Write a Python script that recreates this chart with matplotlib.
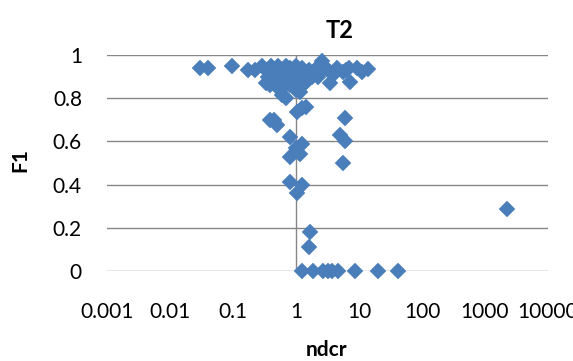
import matplotlib.pyplot as plt

plt.rcParams["font.family"] = ["Lato", "DejaVu Sans"]

# ndcr vs F1 for run T2
ndcr = [
    0.030, 0.040, 0.096, 0.17, 0.22, 0.29, 0.33, 0.40, 0.45, 0.52, 0.60, 0.70,
    0.80, 0.90, 1.0, 1.1, 1.25, 1.4, 1.6, 1.8, 2.0, 2.3, 2.58, 3.0, 3.5, 4.5,
    5.5, 7.0, 9.3, 11.0, 13.9,
    0.33, 0.39, 0.42, 0.50, 0.55, 0.60, 0.70, 0.80, 0.90, 1.0, 1.16, 1.3, 1.5,
    2.2, 3.46, 7.2,
    0.36, 0.48, 0.65, 0.75, 0.95, 1.2, 1.7, 2.6, 4.0, 6.3,
    1.05, 1.45, 1.25, 0.39, 0.44, 0.50, 6.0, 0.80, 1.25, 5.0, 6.0, 0.80, 1.16,
    1.0, 5.6, 0.80, 1.25, 1.04, 1.67, 1.6, 2237,
    1.25, 1.86, 2.7, 3.2, 3.7, 4.6, 8.6, 20, 41.5,
]
f1 = [
    0.94, 0.94, 0.95, 0.93, 0.93, 0.95, 0.93, 0.95, 0.92, 0.95, 0.93, 0.95,
    0.94, 0.92, 0.95, 0.93, 0.94, 0.92, 0.93, 0.90, 0.93, 0.95, 0.97, 0.94,
    0.92, 0.94, 0.92, 0.94, 0.94, 0.92, 0.935,
    0.87, 0.86, 0.89, 0.86, 0.84, 0.815, 0.80, 0.86, 0.88, 0.84, 0.83, 0.86,
    0.88, 0.90, 0.87, 0.875,
    0.90, 0.91, 0.89, 0.91, 0.90, 0.89, 0.91, 0.93, 0.91, 0.93,
    0.735, 0.76, 0.755, 0.70, 0.70, 0.675, 0.71, 0.62, 0.59, 0.63, 0.60, 0.53,
    0.54, 0.57, 0.50, 0.41, 0.40, 0.36, 0.18, 0.11, 0.287,
    0, 0, 0, 0, 0, 0, 0, 0, 0,
]

xticks = [0.001, 0.01, 0.1, 1, 10, 100, 1000, 10000]
xlabels = ["0.001", "0.01", "0.1", "1", "10", "100", "1000", "10000"]
yticks = [0, 0.2, 0.4, 0.6, 0.8, 1]
ylabels = ["0", "0.2", "0.4", "0.6", "0.8", "1"]

fig = plt.figure(figsize=(5.73, 3.61), dpi=100)
ax = fig.add_axes([0.1867, 0.2493, 0.7697, 0.5983])

ax.set_xscale("log")
ax.set_xlim(0.001, 10000)
ax.set_ylim(0, 1)

for y in yticks:
    ax.axhline(y, color="#868686", lw=1.0, zorder=1)
ax.axvline(1, color="#868686", lw=1.0, zorder=1)

ax.plot(ndcr, f1, "D", ms=8.6, color="#4a7ebb", mec="#4a7ebb", mew=0.3,
        ls="none", clip_on=False, zorder=3)

ax.set_xticks(xticks)
ax.set_xticklabels(xlabels)
ax.minorticks_off()
ax.set_yticks(yticks)
ax.set_yticklabels(ylabels)
ax.tick_params(axis="x", length=0, pad=22, labelsize=15)
ax.tick_params(axis="y", length=0, pad=18, labelsize=15)
for s in ax.spines.values():
    s.set_visible(False)

fig.text(340 / 573, 1 - 30 / 361, "T2", ha="center", va="center",
         fontsize=17, fontweight="bold")
fig.text(20 / 573, 1 - 160 / 361, "F1", ha="center", va="center",
         rotation=90, fontsize=15, fontweight="bold")
fig.text(327 / 573, 1 - 350 / 361, "ndcr", ha="center", va="center",
         fontsize=15, fontweight="bold")

fig.savefig("out.png", dpi=100)
